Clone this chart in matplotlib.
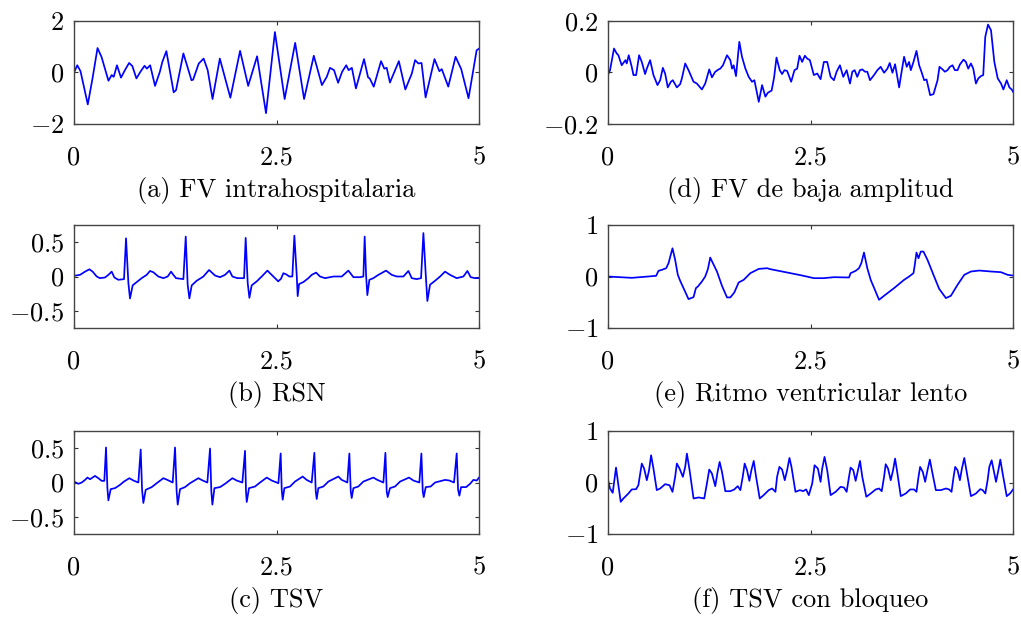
import matplotlib
matplotlib.use('Agg')
import matplotlib.pyplot as plt

plt.rcParams['font.family'] = 'serif'
plt.rcParams['font.serif'] = ['cmr10']
plt.rcParams['mathtext.fontset'] = 'cm'
plt.rcParams['axes.formatter.use_mathtext'] = True
plt.rcParams['font.size'] = 19

### DATA (time in s, amplitude) ###
# (a) FV intrahospitalaria
t_a = [0.0, 0.04, 0.08, 0.17, 0.23, 0.29, 0.34, 0.425, 0.465, 0.49, 0.53, 0.58, 0.63, 0.68, 0.72,
       0.77, 0.82, 0.87, 0.90, 0.94, 1.00, 1.06, 1.09, 1.14, 1.23, 1.26, 1.35, 1.45, 1.47, 1.54,
       1.60, 1.65, 1.71, 1.80, 1.93, 2.05, 2.15, 2.26, 2.37, 2.48, 2.60, 2.73, 2.84, 2.96, 3.06,
       3.12, 3.16, 3.21, 3.26, 3.31, 3.36, 3.39, 3.43, 3.48, 3.58, 3.63, 3.65, 3.70, 3.79, 3.83,
       3.86, 3.90, 4.01, 4.09, 4.17, 4.21, 4.25, 4.29, 4.34, 4.45, 4.51, 4.54, 4.62, 4.71, 4.78,
       4.87, 4.97, 5.0]
v_a = [0.0, 0.28, 0.05, -1.24, -0.2, 0.95, 0.6, -0.32, -0.1, -0.17, 0.28, -0.2, 0.1, 0.37, 0.25,
       -0.23, 0.03, 0.26, 0.15, 0.28, -0.52, 0.03, 0.41, 0.83, -0.77, -0.68, 0.74, -0.3, -0.28, 0.35,
       0.54, 0.09, -1.03, 0.54, -0.98, 0.84, -0.52, 0.63, -1.58, 1.57, -1.03, 1.15, -1.03, 0.65, -0.49,
       -0.17, 0.18, 0.09, -0.4, 0.03, 0.28, 0.09, 0.18, -0.62, 0.52, -0.19, -0.23, -0.55, 0.44, 0.15,
       0.18, -0.39, 0.44, -0.66, -0.04, 0.48, 0.35, 0.37, -0.97, 0.52, 0.05, 0.13, -0.55, 0.61, 0.13,
       -1.0, 0.86, 0.93]

# (b) RSN
t_b = [0.0, 0.074, 0.136, 0.19, 0.23, 0.28, 0.32, 0.383, 0.424, 0.465, 0.498, 0.547, 0.617, 0.642,
       0.671, 0.691, 0.724, 0.774, 0.835, 0.897, 0.938, 0.979, 1.041, 1.103, 1.156, 1.198, 1.226,
       1.259, 1.35, 1.379, 1.403, 1.424, 1.453, 1.514, 1.597, 1.667, 1.741, 1.802, 1.864, 1.918,
       1.955, 2.016, 2.099, 2.119, 2.144, 2.165, 2.193, 2.255, 2.317, 2.387, 2.44, 2.502, 2.52,
       2.555, 2.584, 2.617, 2.658, 2.695, 2.72, 2.749, 2.761, 2.778, 2.831, 2.893, 2.934, 2.988,
       3.037, 3.099, 3.202, 3.305, 3.387, 3.449, 3.531, 3.572, 3.588, 3.605, 3.621, 3.646, 3.695,
       3.757, 3.852, 3.922, 3.984, 4.066, 4.128, 4.169, 4.23, 4.284, 4.313, 4.342, 4.362, 4.395,
       4.457, 4.519, 4.58, 4.642, 4.724, 4.807, 4.856, 4.897, 4.95, 5.0]
v_b = [0.01, 0.024, 0.071, 0.105, 0.071, 0.0, -0.024, -0.014, 0.024, 0.071, -0.014, -0.048, -0.038, 0.557,
       -0.095, -0.32, -0.129, -0.081, -0.024, 0.024, 0.081, 0.062, 0.0, -0.024, 0.0, 0.071, 0.024,
       -0.024, -0.038, 0.581, -0.119, -0.319, -0.129, -0.062, 0.0, 0.095, 0.014, -0.01, 0.024, 0.086,
       0.0, -0.024, -0.024, 0.562, -0.095, -0.31, -0.129, -0.071, 0.0, 0.086, 0.024, -0.048, -0.071,
       -0.033, 0.048, 0.033, 0.0, 0.0, 0.595, 0.024, -0.286, -0.11, -0.081, -0.024, 0.024, 0.057,
       0.0, -0.024, 0.0, 0.0, 0.086, -0.01, -0.01, 0.0, 0.581, 0.024, -0.271, -0.048, -0.024,
       0.024, 0.086, 0.024, 0.0, 0.0, 0.081, -0.024, -0.038, -0.024, 0.633, 0.024, -0.357, -0.119,
       -0.062, 0.0, 0.071, 0.024, -0.024, 0.0, 0.081, -0.01, -0.024, -0.024]

# (c) TSV
t_c = [0.0, 0.053, 0.095, 0.136, 0.165, 0.198, 0.259, 0.3, 0.342, 0.374, 0.395, 0.412, 0.424, 0.453,
       0.506, 0.568, 0.617, 0.683, 0.733, 0.794, 0.823, 0.84, 0.856, 0.885, 0.959, 1.021, 1.103,
       1.152, 1.218, 1.247, 1.267, 1.28, 1.309, 1.37, 1.432, 1.535, 1.588, 1.646, 1.679, 1.695,
       1.708, 1.733, 1.802, 1.864, 1.955, 2.008, 2.078, 2.111, 2.123, 2.132, 2.16, 2.235, 2.296,
       2.379, 2.44, 2.523, 2.551, 2.564, 2.576, 2.597, 2.667, 2.728, 2.823, 2.872, 2.934, 2.967,
       2.984, 2.996, 3.016, 3.078, 3.14, 3.263, 3.305, 3.374, 3.399, 3.416, 3.428, 3.449, 3.51,
       3.572, 3.695, 3.745, 3.819, 3.844, 3.86, 3.872, 3.901, 3.963, 4.025, 4.136, 4.189, 4.263,
       4.288, 4.305, 4.317, 4.342, 4.403, 4.457, 4.58, 4.634, 4.691, 4.724, 4.741, 4.757, 4.778,
       4.84, 4.889, 4.93, 4.971, 5.0]
v_c = [0.014, -0.019, 0.0, 0.038, 0.072, 0.048, 0.096, 0.063, 0.024, 0.024, 0.51, -0.082, -0.26, -0.096,
       -0.082, -0.034, 0.014, 0.063, 0.029, 0.0, 0.481, -0.106, -0.298, -0.106, -0.067, -0.01, 0.063,
       0.038, 0.0, 0.51, -0.13, -0.322, -0.096, -0.067, -0.01, 0.063, 0.029, 0.0, 0.495, -0.13,
       -0.322, -0.082, -0.067, -0.019, 0.063, 0.029, 0.0, 0.462, -0.13, -0.284, -0.082, -0.058, 0.0,
       0.072, 0.029, -0.01, 0.423, -0.106, -0.25, -0.082, -0.058, 0.014, 0.087, 0.038, 0.0, 0.433,
       -0.13, -0.24, -0.082, -0.058, 0.014, 0.087, 0.038, 0.0, 0.423, -0.13, -0.226, -0.082, -0.058,
       0.014, 0.072, 0.038, 0.0, 0.433, -0.13, -0.212, -0.082, -0.058, 0.014, 0.072, 0.029, 0.0,
       0.423, -0.13, -0.212, -0.067, -0.058, 0.0, 0.038, 0.029, 0.0, 0.423, -0.106, -0.192, -0.067,
       -0.067, -0.019, 0.038, 0.029, 0.072]

# (d) FV de baja amplitud
t_d = [0.004, 0.025, 0.074, 0.107, 0.128, 0.169, 0.19, 0.215, 0.231, 0.256, 0.293, 0.314, 0.347, 0.384,
       0.417, 0.458, 0.479, 0.52, 0.561, 0.611, 0.644, 0.677, 0.705, 0.738, 0.776, 0.8, 0.85, 0.891,
       0.912, 0.953, 0.994, 1.056, 1.097, 1.159, 1.2, 1.25, 1.283, 1.324, 1.366, 1.386, 1.419, 1.469,
       1.51, 1.531, 1.551, 1.58, 1.621, 1.654, 1.696, 1.737, 1.778, 1.807, 1.861, 1.902, 1.943, 1.972,
       2.02, 2.05, 2.08, 2.12, 2.149, 2.178, 2.211, 2.261, 2.302, 2.335, 2.364, 2.397, 2.43, 2.459,
       2.492, 2.541, 2.583, 2.624, 2.665, 2.706, 2.748, 2.789, 2.822, 2.863, 2.904, 2.946, 2.987,
       3.016, 3.045, 3.077, 3.11, 3.139, 3.172, 3.201, 3.234, 3.284, 3.325, 3.366, 3.408, 3.449,
       3.478, 3.511, 3.544, 3.594, 3.614, 3.655, 3.688, 3.717, 3.738, 3.771, 3.808, 3.841, 3.869,
       3.903, 3.932, 3.977, 4.018, 4.068, 4.092, 4.13, 4.158, 4.191, 4.22, 4.253, 4.282, 4.315,
       4.344, 4.389, 4.418, 4.447, 4.48, 4.509, 4.542, 4.571, 4.604, 4.632, 4.657, 4.691, 4.728,
       4.769, 4.811, 4.852, 4.881, 4.922, 4.955, 4.984, 5.0]
v_d = [-0.006, 0.009, 0.093, 0.074, 0.067, 0.028, 0.037, 0.048, 0.035, 0.067, 0.022, -0.01, -0.01, 0.067,
       0.041, -0.006, 0.015, 0.048, -0.01, -0.049, -0.03, 0.018, -0.004, -0.058, -0.036, -0.03, -0.058,
       -0.045, -0.023, 0.035, 0.009, -0.036, -0.043, -0.066, -0.043, 0.012, -0.019, 0.003, 0.012,
       0.015, 0.028, 0.067, 0.048, 0.015, 0.028, -0.014, 0.119, 0.061, 0.015, -0.017, -0.036, -0.03,
       -0.114, -0.049, -0.094, -0.079, -0.07, -0.02, 0.058, 0.009, -0.006, 0.009, 0.006, -0.036,
       0.009, 0.015, 0.065, 0.041, 0.065, 0.054, 0.048, -0.01, -0.004, -0.026, 0.041, 0.041, -0.017,
       -0.03, 0.003, 0.028, -0.017, 0.009, -0.043, 0.003, 0.009, -0.017, 0.009, 0.012, 0.003, 0.003,
       -0.03, -0.01, 0.009, 0.022, -0.001, 0.015, 0.037, -0.001, 0.032, -0.058, -0.017, 0.061, 0.022,
       0.041, 0.009, 0.041, 0.084, 0.028, 0.003, -0.03, -0.027, -0.088, -0.084, -0.03, 0.022, 0.012,
       0.003, 0.009, 0.022, 0.028, 0.009, 0.009, 0.031, 0.05, 0.041, 0.015, 0.035, 0.015, -0.043,
       -0.023, -0.014, -0.01, 0.138, 0.186, 0.164, 0.041, -0.023, -0.043, -0.066, -0.03, -0.058,
       -0.066, -0.075]

# (e) Ritmo ventricular lento
t_e = [0.0, 0.293, 0.594, 0.623, 0.664, 0.718, 0.747, 0.796, 0.829, 0.862, 0.891, 0.994, 1.056, 1.085,
       1.11, 1.159, 1.2, 1.234, 1.262, 1.295, 1.345, 1.407, 1.469, 1.51, 1.559, 1.613, 1.675, 1.757,
       1.861, 1.964, 2.005, 2.108, 2.252, 2.397, 2.541, 2.665, 2.789, 2.975, 2.995, 3.057, 3.098,
       3.127, 3.16, 3.201, 3.243, 3.346, 3.408, 3.531, 3.655, 3.717, 3.771, 3.787, 3.808, 3.833,
       3.861, 3.894, 3.944, 4.026, 4.088, 4.171, 4.233, 4.315, 4.398, 4.48, 4.583, 4.728, 4.851,
       4.934, 5.0]
v_e = [0.0, -0.026, 0.013, 0.11, 0.129, 0.161, 0.258, 0.548, 0.323, 0.032, -0.084, -0.439, -0.4, -0.226,
       -0.194, -0.097, 0.0, 0.148, 0.368, 0.258, 0.097, -0.181, -0.406, -0.406, -0.31, -0.116, -0.065,
       0.065, 0.148, 0.161, 0.142, 0.11, 0.065, 0.019, -0.032, -0.032, -0.013, -0.019, 0.065, 0.11,
       0.161, 0.258, 0.465, 0.161, -0.065, -0.452, -0.374, -0.226, -0.065, 0.0, 0.065, 0.226, 0.465,
       0.355, 0.484, 0.484, 0.323, 0.0, -0.239, -0.419, -0.374, -0.161, 0.032, 0.097, 0.116, 0.097,
       0.084, 0.032, 0.019]

# (f) TSV con bloqueo
t_f = [0.004, 0.025, 0.058, 0.099, 0.128, 0.157, 0.19, 0.252, 0.293, 0.347, 0.375, 0.417, 0.446, 0.479,
       0.507, 0.532, 0.561, 0.602, 0.644, 0.705, 0.759, 0.796, 0.829, 0.85, 0.883, 0.924, 0.953,
       0.974, 1.007, 1.056, 1.118, 1.188, 1.221, 1.25, 1.283, 1.324, 1.353, 1.378, 1.407, 1.448,
       1.51, 1.559, 1.601, 1.634, 1.663, 1.687, 1.716, 1.745, 1.77, 1.799, 1.828, 1.873, 1.922,
       1.984, 2.026, 2.067, 2.087, 2.116, 2.149, 2.182, 2.211, 2.24, 2.265, 2.314, 2.368, 2.409,
       2.446, 2.479, 2.521, 2.55, 2.591, 2.624, 2.644, 2.673, 2.706, 2.748, 2.81, 2.871, 2.913,
       2.946, 2.975, 2.995, 3.028, 3.057, 3.086, 3.111, 3.139, 3.189, 3.243, 3.305, 3.346, 3.379,
       3.408, 3.428, 3.457, 3.49, 3.519, 3.544, 3.573, 3.614, 3.676, 3.729, 3.779, 3.808, 3.833,
       3.853, 3.886, 3.915, 3.944, 3.973, 4.006, 4.047, 4.109, 4.171, 4.212, 4.241, 4.266, 4.286,
       4.315, 4.344, 4.369, 4.398, 4.431, 4.48, 4.542, 4.596, 4.625, 4.658, 4.686, 4.707, 4.736,
       4.761, 4.79, 4.819, 4.843, 4.872, 4.922, 4.963, 5.0]
v_f = [0.026, -0.116, -0.2, 0.29, -0.052, -0.374, -0.31, -0.213, -0.135, -0.129, -0.052, 0.368, 0.271,
       0.045, 0.239, 0.529, 0.271, -0.148, -0.116, -0.032, -0.052, -0.181, 0.11, 0.368, 0.271, 0.11,
       0.303, 0.561, 0.239, -0.31, -0.29, -0.31, -0.019, 0.252, 0.174, -0.071, 0.206, 0.4, 0.206,
       -0.168, -0.168, -0.135, -0.071, -0.148, 0.11, 0.368, 0.239, 0.032, 0.239, 0.419, 0.11, -0.31,
       -0.245, -0.148, -0.116, -0.181, 0.11, 0.303, 0.252, 0.045, 0.239, 0.477, 0.303, -0.181,
       -0.148, -0.168, -0.135, -0.245, -0.019, 0.335, 0.271, 0.013, 0.271, 0.497, 0.239, -0.245,
       -0.181, -0.084, -0.097, -0.181, 0.11, 0.29, 0.239, 0.032, 0.239, 0.419, 0.11, -0.277, -0.213,
       -0.135, -0.116, -0.168, 0.11, 0.355, 0.271, 0.045, 0.239, 0.465, 0.174, -0.265, -0.213,
       -0.135, -0.135, -0.181, 0.11, 0.303, 0.206, 0.013, 0.239, 0.445, 0.174, -0.148, -0.148,
       -0.116, -0.135, -0.181, 0.11, 0.303, 0.239, 0.045, 0.271, 0.477, 0.174, -0.265, -0.213,
       -0.129, -0.148, -0.213, 0.045, 0.303, 0.432, 0.239, 0.013, 0.239, 0.445, 0.174, -0.265,
       -0.213, -0.135]

xticks = [0, 2.5, 5]
xtick_labels = ['0', '2.5', '5']

captions = ['(a) FV intrahospitalaria', '(b) RSN', '(c) TSV',
            '(d) FV de baja amplitud', '(e) Ritmo ventricular lento', '(f) TSV con bloqueo']

fig = plt.figure(figsize=(10.21, 6.19), dpi=100)

# axes boxes in figure fraction
lefts = [0.0725, 0.5955]
bottoms = [0.7997, 0.4701, 0.1373]
w, h = 0.3967, 0.1664

panels = [
    (0, 0, t_a, v_a, 2, [-2, 0, 2], ['$-2$', '$0$', '$2$']),
    (0, 1, t_b, v_b, 0.75, [-0.5, 0, 0.5], ['$-0.5$', '$0$', '$0.5$']),
    (0, 2, t_c, v_c, 0.75, [-0.5, 0, 0.5], ['$-0.5$', '$0$', '$0.5$']),
    (1, 0, t_d, v_d, 0.2, [-0.2, 0, 0.2], ['$-0.2$', '$0$', '$0.2$']),
    (1, 1, t_e, v_e, 1, [-1, 0, 1], ['$-1$', '$0$', '$1$']),
    (1, 2, t_f, v_f, 1, [-1, 0, 1], ['$-1$', '$0$', '$1$']),
]

for k, (col, row, t, v, lim, yt, ytl) in enumerate(panels):
    ax = fig.add_axes([lefts[col], bottoms[row], w, h])
    ax.plot(t, v, color='#0000ff', lw=1.25, solid_joinstyle='round')
    ax.set_xlim(0, 5)
    ax.set_ylim(-lim, lim)
    ax.set_xticks(xticks)
    ax.set_xticklabels(xtick_labels)
    ax.set_yticks(yt)
    ax.set_yticklabels(ytl)
    ax.tick_params(direction='in', top=True, right=True, length=3, width=0.8,
                   colors='#333333', labelcolor='black')
    ax.tick_params(axis='x', pad=16)
    ax.tick_params(axis='y', pad=7)
    for s in ax.spines.values():
        s.set_color('#444444')
        s.set_linewidth(1.0)
    # subfigure caption under each panel
    ax.text(0.5, -0.65, captions[k], transform=ax.transAxes, ha='center', va='center')

fig.savefig('out.png', dpi=100)
plt.close(fig)
